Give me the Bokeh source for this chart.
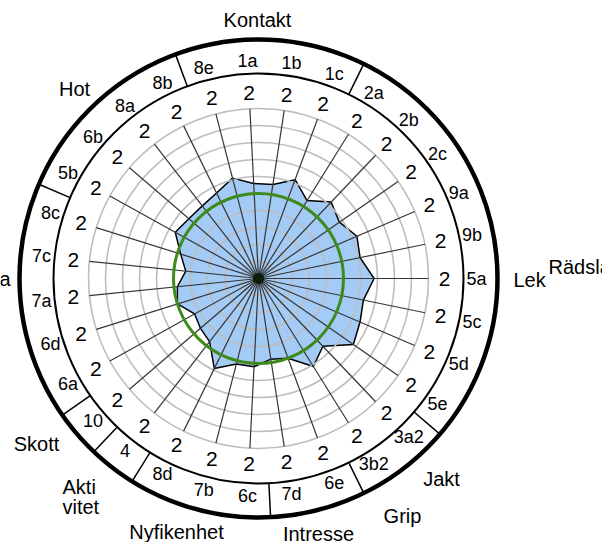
import numpy as np
from bokeh.plotting import figure
from bokeh.models import Range1d
from bokeh.embed import file_html
from bokeh.resources import INLINE
from bokeh.core.properties import value

# ---------------- data ----------------
codes = ["1a", "1b", "1c", "2a", "2b", "2c", "9a", "9b", "5a", "5c", "5d", "5e",
         "3a2", "3b2", "6e", "7d", "6c", "7b", "8d", "4", "10", "6a", "6d", "7a",
         "7c", "8c", "5b", "6b", "8a", "8b", "8e"]
scores = ["2", "2", "2", "2", "2", "2", "2", "2", "2", "2", "2", "2", "2", "2", "2", "2",
          "2", "2", "2", "2", "2", "2", "2", "2", "2", "2", "2", "2", "2", "2", "2"]
values = [5.6, 5.6, 6.2, 5.4, 6.2, 5.8, 6.3, 6.1, 6.8, 6.3, 6.5, 6.8, 5.5, 6.1, 5.0, 4.8,
          5.2, 5.2, 5.9, 4.7, 4.5, 4.3, 5.0, 4.8, 4.3, 4.8, 5.6, 5.4, 5.4, 5.6, 6.1]
reference_level = 5.0
scale_max = 10
group_starts = ["8e", "2a", "3a2", "6e", "6c", "4", "10", "6a", "5b"]
category_names = ["Kontakt", "Hot", "Rädsla", "Lek", "Rädsla", "Jakt", "Grip",
                  "Intresse", "Nyfikenhet", "Akti", "vitet", "Skott"]

# ---------------- layout ----------------
W, H = 602, 542
CX, CY = 258, 278          # centre in figure pixels
R_GRID = 170               # radius of value 10
R_SCORE = 186
R_THIN = 205
R_CODE = 218
R_THICK = 239
FONT = "Liberation Sans"
# figure-pixel positions (x, y, align) of the outer category labels
cat_pos = [(257, 19, "center"), (74, 88, "center"), (10, 278, "right"),
           (513, 279, "left"), (548, 266, "left"), (441, 478, "center"),
           (402, 515, "center"), (318, 533, "center"), (176, 531, "center"),
           (62, 486, "left"), (62, 506, "left"), (36, 443, "center")]

n = len(codes)
step = 360.0 / n
start = 90.0 - codes.index("5a") * step
ang = np.radians(start + np.arange(n) * step)   # clockwise from north


def pol(r, a):
    return r * np.sin(a), r * np.cos(a)


p = figure(width=W, height=H, output_backend="svg", toolbar_location=None,
           x_range=Range1d(-CX, W - CX), y_range=Range1d(-(H - CY), CY),
           x_axis_type=None, y_axis_type=None, min_border=0)
p.grid.visible = False
p.outline_line_color = None
p.background_fill_color = "white"
p.border_fill_color = "white"

# polygon of values
r_vals = np.array(values) / scale_max * R_GRID
px, py = pol(r_vals, ang)
p.patch(list(px), list(py), fill_color="#a3cbf5", line_color="black", line_width=1.5)

# grid rings
rings = np.arange(1, scale_max + 1) * R_GRID / scale_max
p.circle(x=[0] * len(rings), y=[0] * len(rings), radius=list(rings),
         fill_color=None, line_color="#bdbdbd", line_width=1.6)

# spokes
sx, sy = pol(R_GRID, ang)
p.segment(x0=[0] * n, y0=[0] * n, x1=list(sx), y1=list(sy), line_color="#363636", line_width=1.2)

# reference circle
p.circle(x=[0], y=[0], radius=[reference_level / scale_max * R_GRID], fill_color=None,
         line_color="#3f8a1c", line_width=3)
p.scatter(x=[0], y=[0], size=11, fill_color="#0c1f08", line_color=None)

# outer rings
p.circle(x=[0], y=[0], radius=[R_THIN], fill_color=None, line_color="black", line_width=2)
p.circle(x=[0], y=[0], radius=[R_THICK], fill_color=None, line_color="black", line_width=4.5)

# group separators
sep_ang = np.array([ang[codes.index(c)] - np.radians(step / 2) for c in group_starts])
x0, y0 = pol(R_THIN, sep_ang)
x1, y1 = pol(R_THICK, sep_ang)
p.segment(x0=list(x0), y0=list(y0), x1=list(x1), y1=list(y1), line_color="black", line_width=1.5)

# score texts and codes
tx, ty = pol(R_SCORE, ang)
p.text(x=list(tx), y=list(ty), text=scores, text_font=value(FONT), text_font_size="21px",
       text_align="center", text_baseline="middle", text_color="black")
cx_, cy_ = pol(R_CODE, ang)
p.text(x=list(cx_), y=list(cy_), text=codes, text_font=value(FONT), text_font_size="18px",
       text_align="center", text_baseline="middle", text_color="black")

# category labels
for name, (x, y, al) in zip(category_names, cat_pos):
    p.text(x=[x - CX], y=[CY - y], text=[name], text_font=value(FONT), text_font_size="20px",
           text_align=al, text_baseline="middle", text_color="black")

open("out.html", "w").write(file_html(p, INLINE))
